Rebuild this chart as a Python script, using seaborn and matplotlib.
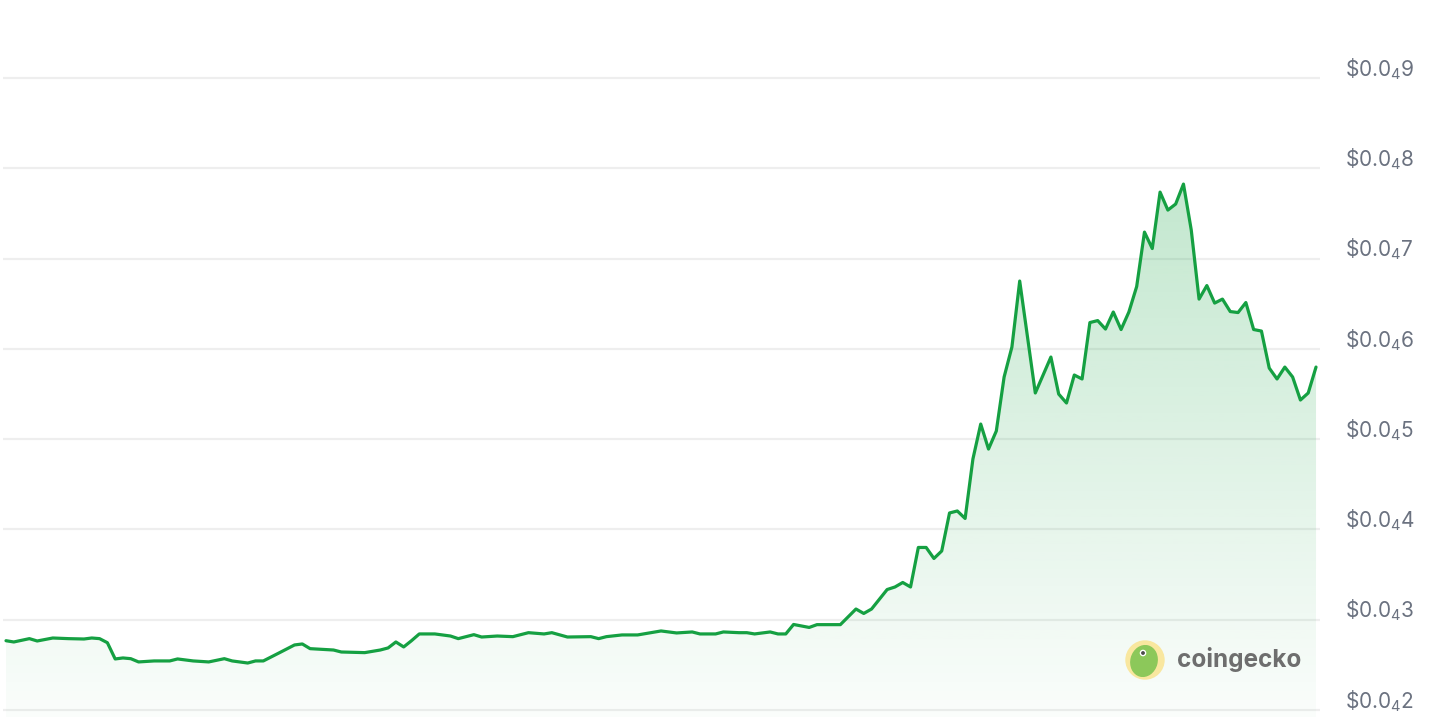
import matplotlib
matplotlib.use("Agg")
import numpy as np
import matplotlib.pyplot as plt
import matplotlib.transforms as mtransforms
from matplotlib.patches import Circle, Ellipse
import seaborn as sns

# hourly price over 7 days, prices in units of 1e-5 USD
hours = [0, 1, 3, 4, 6, 8, 10, 11, 12, 13, 14, 15, 16, 17, 19, 21, 22, 24, 26, 28,
         29, 31, 32, 33, 35, 37, 38, 39, 42, 43, 46, 48, 49, 50, 51, 52, 53, 55, 57, 58,
         60, 61, 63, 65, 67, 69, 70, 72, 75, 76, 77, 79, 81, 84, 86, 88, 89, 91, 92, 94,
         95, 96, 98, 99, 100, 101, 103, 104, 107, 109, 110, 111, 113, 114, 115, 116, 117, 118, 119, 120,
         121, 122, 123, 124, 125, 126, 127, 128, 129, 130, 132, 134, 135, 136, 137, 138, 139, 140, 141, 142,
         143, 144, 145, 146, 147, 148, 149, 150, 151, 152, 153, 154, 155, 156, 157, 158, 159, 160, 161, 162,
         163, 164, 165, 166, 167, 168]
prices = [2.767, 2.753, 2.790, 2.764, 2.797, 2.790, 2.786, 2.797, 2.790, 2.745,
          2.565, 2.576, 2.568, 2.532, 2.543, 2.543, 2.565, 2.543, 2.532, 2.568,
          2.543, 2.520, 2.543, 2.543, 2.631, 2.720, 2.731, 2.679, 2.664, 2.642,
          2.635, 2.664, 2.687, 2.753, 2.698, 2.767, 2.842, 2.842, 2.819, 2.790,
          2.834, 2.808, 2.819, 2.812, 2.856, 2.842, 2.856, 2.808, 2.812, 2.790,
          2.812, 2.831, 2.831, 2.875, 2.853, 2.864, 2.842, 2.842, 2.864, 2.856,
          2.856, 2.842, 2.864, 2.842, 2.842, 2.947, 2.914, 2.945, 2.945, 3.118,
          3.069, 3.118, 3.334, 3.362, 3.412, 3.362, 3.800, 3.800, 3.678, 3.761,
          4.182, 4.204, 4.121, 4.780, 5.167, 4.890, 5.090, 5.688, 6.020, 6.751,
          5.511, 5.909, 5.499, 5.400, 5.710, 5.666, 6.291, 6.313, 6.219, 6.408,
          6.214, 6.408, 6.690, 7.293, 7.111, 7.736, 7.537, 7.604, 7.825, 7.316,
          6.551, 6.701, 6.507, 6.551, 6.413, 6.402, 6.513, 6.214, 6.197, 5.787,
          5.666, 5.798, 5.688, 5.433, 5.511, 5.798]
tick_values = [2, 3, 4, 5, 6, 7, 8, 9]
# "$0.0" + subscript zero-count 4 + leading digit
tick_labels = [r"\$0.0${}_{\mathrm{4}}$" + str(d) for d in tick_values]

LINE = "#15a042"
GRID = "#eeeeee"
LABEL = "#6b7280"

sns.set_theme(style="white")
plt.rcParams["font.family"] = ["Inter", "DejaVu Sans"]
plt.rcParams["mathtext.fontset"] = "custom"
plt.rcParams["mathtext.rm"] = "Inter"

fig = plt.figure(figsize=(14.4, 7.17), dpi=100)
ax = fig.add_axes([3 / 1440, 0, 1317 / 1440, 1])

x = np.array(hours, dtype=float)
y = np.array(prices)
ymin, ymax = 1.922, 9.864
ax.set_xlim(-0.385, 168.51)
ax.set_ylim(ymin, ymax)

for v in tick_values:
    ax.axhline(v, color=GRID, lw=1.6, zorder=0)

# gradient fill under the line
fill = ax.fill_between(x, y, ymin, color="none", lw=0)
grad = np.zeros((256, 1, 4))
grad[..., 0] = 23 / 255
grad[..., 1] = 164 / 255
grad[..., 2] = 68 / 255
grad[..., 3] = np.linspace(0.26, 0.02, 256)[:, None]
img = ax.imshow(grad, extent=[x.min(), x.max(), ymin, y.max()], aspect="auto",
                origin="upper", zorder=1)
img.set_clip_path(fill.get_paths()[0], transform=ax.transData)

sns.lineplot(x=x, y=y, ax=ax, color=LINE, linewidth=2.3, zorder=3)

trans = mtransforms.offset_copy(ax.get_yaxis_transform(), fig=fig, x=0, y=9, units="dots")
for v, lab in zip(tick_values, tick_labels):
    ax.text(1.0189, v, lab, transform=trans, ha="left", va="center",
            fontsize=15, color=LABEL, clip_on=False)

ax.axis("off")

# coingecko watermark
lax = fig.add_axes([1125 / 1440, (717 - 680) / 717, 40 / 1440, 40 / 717])
lax.set_xlim(-1, 1)
lax.set_ylim(-1, 1)
lax.set_aspect("equal")
lax.axis("off")
lax.add_patch(Circle((0, 0), 0.95, color="#f9e79f"))
head = Ellipse((-0.05, -0.05), 1.3, 1.55, angle=-15, color="#8cc85a")
lax.add_patch(head)
head.set_clip_path(Circle((0, 0), 0.95, transform=lax.transData))
lax.add_patch(Circle((-0.1, 0.35), 0.13, color="white"))
lax.add_patch(Circle((-0.1, 0.35), 0.06, color="#4a4a4a"))
fig.text(1177 / 1440, 1 - 660 / 717, "coingecko", ha="left", va="center",
         fontsize=17.5, fontweight="bold", color="#6e6e6e")

fig.savefig("out.png", dpi=100)
